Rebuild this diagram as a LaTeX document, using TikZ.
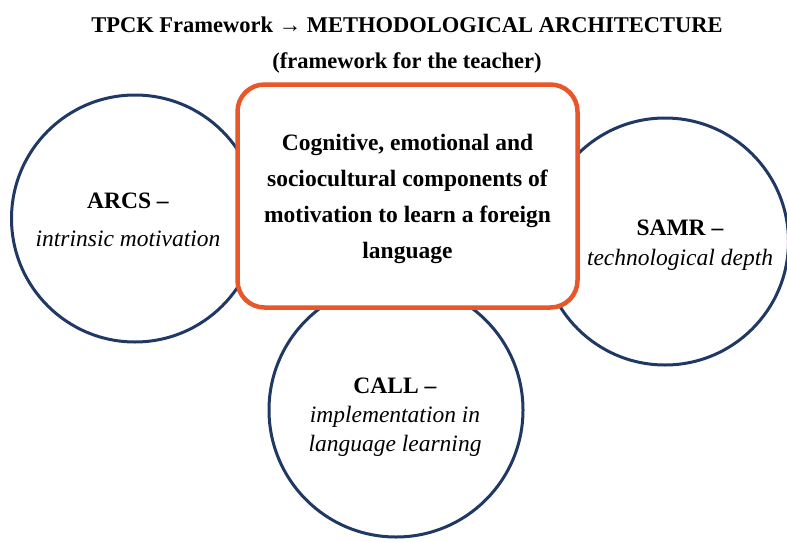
\documentclass[tikz,border=0pt]{standalone}
\usepackage{fontspec}
\setmainfont{Liberation Serif}
\definecolor{navy}{HTML}{1F3864}
\definecolor{flame}{HTML}{E8562A}
\begin{document}
\begin{tikzpicture}[x=1pt,y=-1pt,
  ring/.style={circle, draw=navy, line width=3pt, fill=white,
    minimum size=247pt, inner sep=0pt},
  core/.style={draw=flame, line width=4.5pt, fill=white, rounded corners=27pt,
    minimum width=340pt, minimum height=223pt, inner sep=0pt},
  heading/.style={font=\bfseries\fontsize{22.5}{36}\selectfont, align=center},
  corelabel/.style={font=\bfseries\fontsize{23.5}{36}\selectfont, align=center},
  ringlabel/.style={font=\fontsize{23.5}{30}\selectfont, align=center}]
\useasboundingbox (0,0) rectangle (787,541);

% title
\node[heading] (title) at (407,45)
  {TPCK Framework → METHODOLOGICAL ARCHITECTURE\\(framework for the teacher)};

% three theory circles
\node[ring] (arcs) at (135,218.5) {};
\node[ring] (samr) at (665,241.5) {};
\node[ring, minimum size=254pt] (call) at (396,410) {};

% central component box
\node[core] (hub) at (407.5,196) {};
\node[corelabel] (hubtext) at (407.5,199)
  {Cognitive, emotional and\\sociocultural components of\\motivation to learn a foreign\\language};

% circle labels
\node[ringlabel, font=\fontsize{23.5}{38}\selectfont] (arcstext) at (128,220)
  {\textbf{ARCS –}\\\textit{intrinsic motivation}};
\node[ringlabel] (samrtext) at (680,245)
  {\textbf{SAMR –}\\\textit{technological depth}};
\node[ringlabel, font=\fontsize{23.5}{29}\selectfont] (calltext) at (395,417)
  {\textbf{CALL –}\\\textit{implementation in}\\\textit{language learning}};
\end{tikzpicture}
\end{document}
